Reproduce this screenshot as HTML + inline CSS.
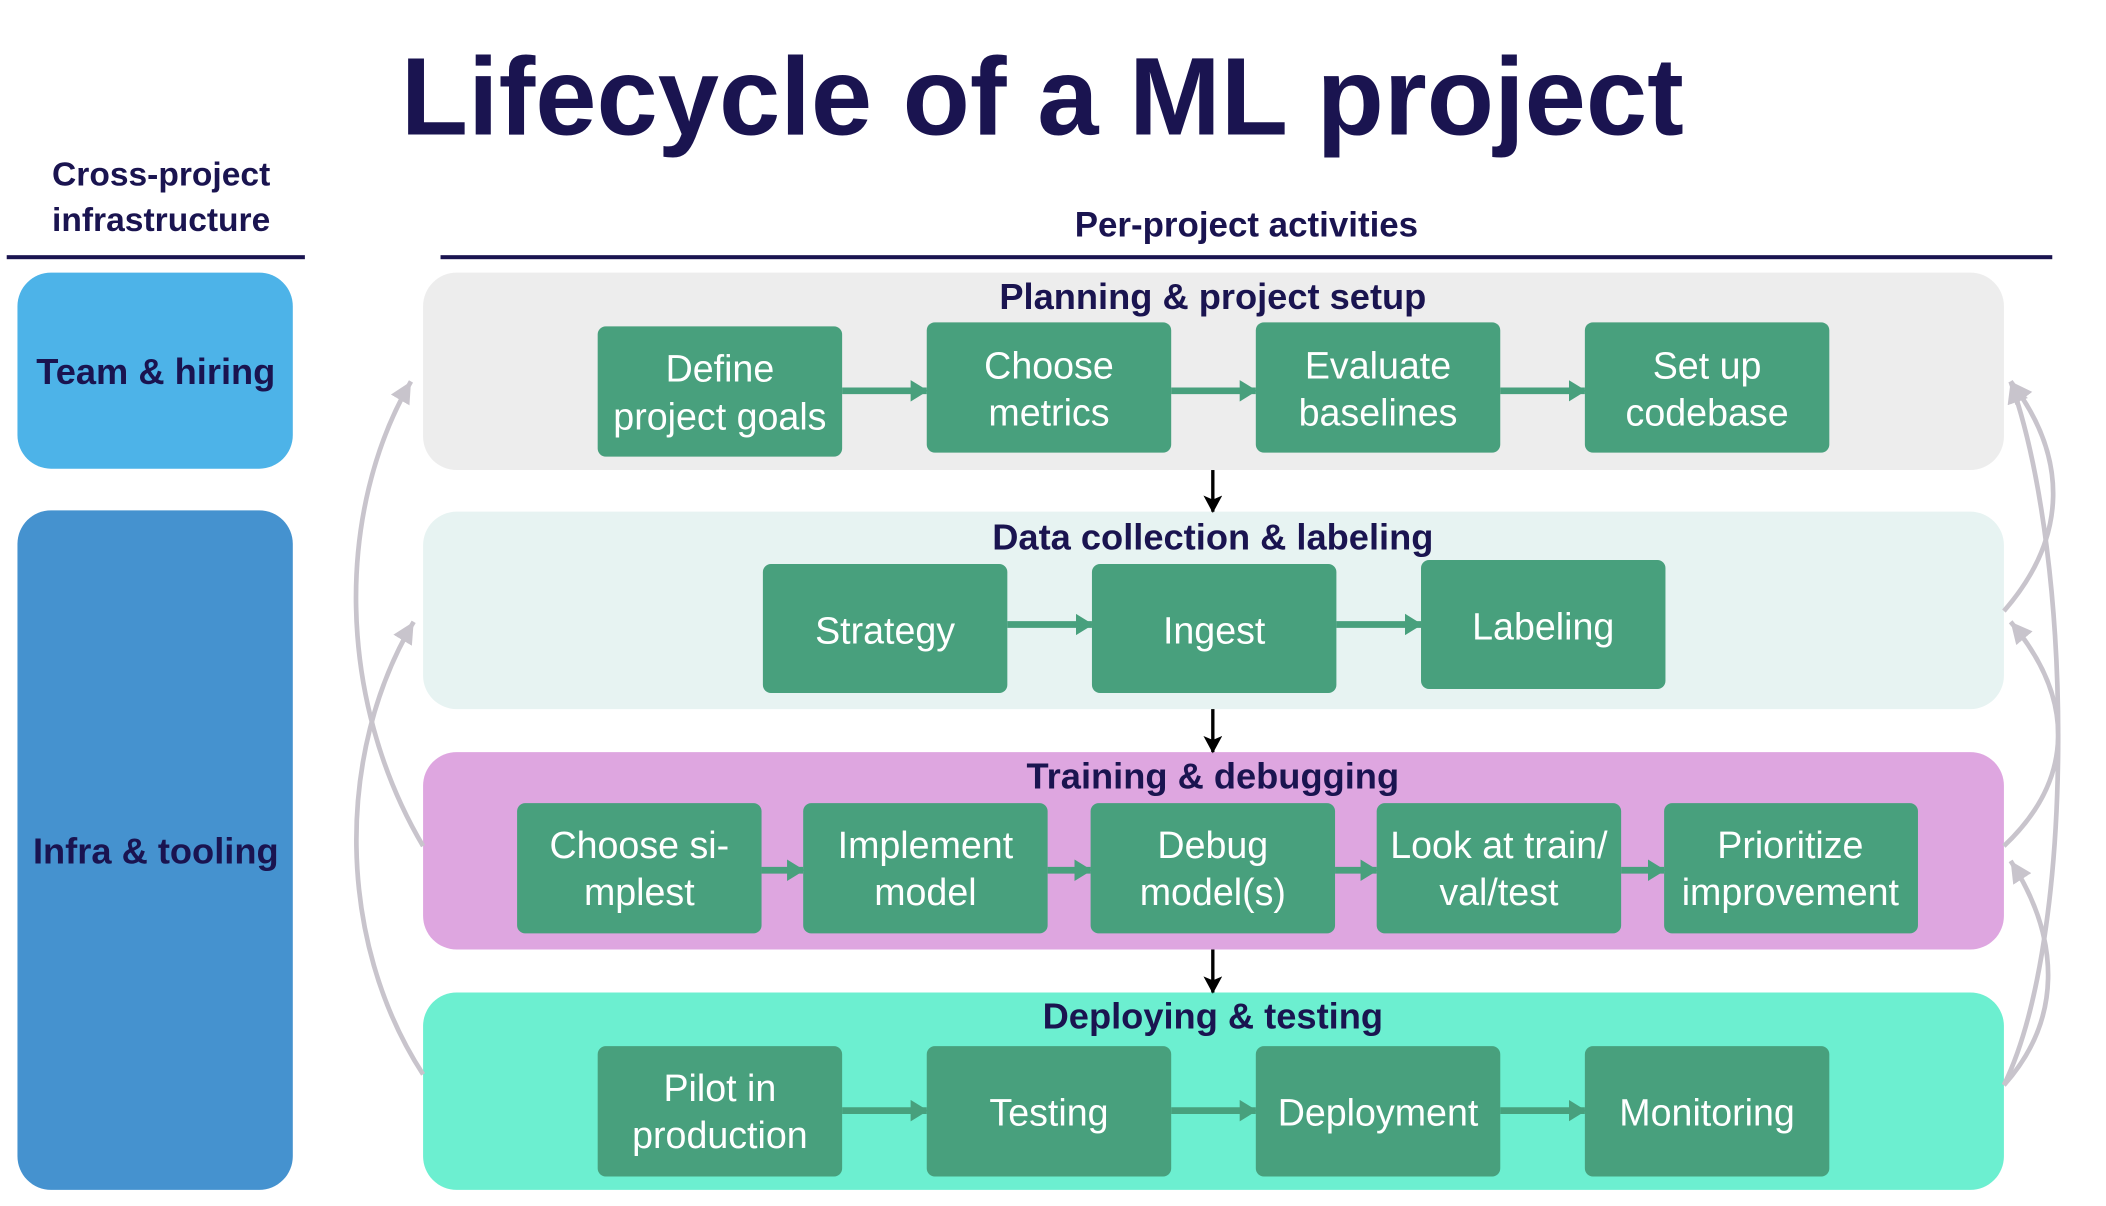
<!DOCTYPE html>
<html><head><meta charset="utf-8"><style>
html,body{margin:0;padding:0;background:#fff;}
svg{display:block;}
text{font-family:"Liberation Sans",sans-serif;}
.t{fill:#1a1450;font-weight:bold;text-anchor:middle;}
.w{fill:#fff;font-size:28px;text-anchor:middle;}
.g{fill:#48a07d;}
</style></head><body>
<svg width="2106" height="1206" viewBox="0 0 1568 898" preserveAspectRatio="none" xmlns="http://www.w3.org/2000/svg">
<defs>
<marker id="ga" markerWidth="14" markerHeight="16" refX="12" refY="8" orient="auto" markerUnits="userSpaceOnUse"><path d="M0,0 L13,8 L0,16 Z" fill="#48a07d"/></marker>
<marker id="ka" markerWidth="14" markerHeight="16" refX="12" refY="7" orient="auto" markerUnits="userSpaceOnUse"><path d="M0,0 L13,7 L0,14 L3,7 Z" fill="#000"/></marker>
<marker id="ya" markerWidth="20" markerHeight="20" refX="16" refY="8" orient="auto" markerUnits="userSpaceOnUse"><path d="M0,0 L16,8 L0,16 Z" fill="#c8c4cc"/></marker>
</defs>
<text class="t" x="776" y="100" font-size="82">Lifecycle of a ML project</text>
<text class="t" x="120" y="138" font-size="25">Cross-project</text>
<text class="t" x="120" y="172" font-size="25">infrastructure</text>
<text class="t" x="928" y="176" font-size="26">Per-project activities</text>
<rect x="5" y="190" width="222" height="3" fill="#1a1450"/>
<rect x="328" y="190" width="1200" height="3" fill="#1a1450"/>
<rect x="13" y="203" width="205" height="146" rx="25" fill="#4db3e8"/>
<text class="t" x="116" y="286" font-size="27">Team &amp; hiring</text>
<rect x="13" y="380" width="205" height="506" rx="25" fill="#4592cf"/>
<text class="t" x="116" y="643" font-size="27">Infra &amp; tooling</text>

<rect x="315" y="203" width="1177" height="147" rx="25" fill="#ededed"/>
<rect x="315" y="381" width="1177" height="147" rx="25" fill="#e7f3f2"/>
<rect x="315" y="560" width="1177" height="147" rx="25" fill="#dea6e0"/>
<rect x="315" y="739" width="1177" height="147" rx="25" fill="#6cefd0"/>
<text class="t" x="903" y="230" font-size="27">Planning &amp; project setup</text>
<text class="t" x="903" y="409" font-size="27">Data collection &amp; labeling</text>
<text class="t" x="903" y="587" font-size="27">Training &amp; debugging</text>
<text class="t" x="903" y="766" font-size="27">Deploying &amp; testing</text>

<g fill="none" stroke="#c8c4cc" stroke-width="3.5">
<path d="M315,630 C250,520 250,380 306,284" marker-end="url(#ya)"/>
<path d="M315,800 C250,700 250,560 308,463" marker-end="url(#ya)"/>
<path d="M1492,455 C1540,400 1540,340 1497,284" marker-end="url(#ya)"/>
<path d="M1492,630 C1545,580 1545,520 1497,463" marker-end="url(#ya)"/>
<path d="M1492,808 C1535,760 1535,700 1497,641" marker-end="url(#ya)"/>
<path d="M1492,808 C1545,700 1545,420 1497,284" marker-end="url(#ya)"/>
</g>

<g stroke="#000" stroke-width="2.5">
<line x1="903" y1="350" x2="903" y2="381" marker-end="url(#ka)"/>
<line x1="903" y1="528" x2="903" y2="560" marker-end="url(#ka)"/>
<line x1="903" y1="707" x2="903" y2="739" marker-end="url(#ka)"/>
</g>

<g class="g">
<rect x="445" y="243" width="182" height="97" rx="6"/>
<rect x="690" y="240" width="182" height="97" rx="6"/>
<rect x="935" y="240" width="182" height="97" rx="6"/>
<rect x="1180" y="240" width="182" height="97" rx="6"/>
<rect x="568" y="420" width="182" height="96" rx="6"/>
<rect x="813" y="420" width="182" height="96" rx="6"/>
<rect x="1058" y="417" width="182" height="96" rx="6"/>
<rect x="385" y="598" width="182" height="97" rx="6"/>
<rect x="598" y="598" width="182" height="97" rx="6"/>
<rect x="812" y="598" width="182" height="97" rx="6"/>
<rect x="1025" y="598" width="182" height="97" rx="6"/>
<rect x="1239" y="598" width="189" height="97" rx="6"/>
<rect x="445" y="779" width="182" height="97" rx="6"/>
<rect x="690" y="779" width="182" height="97" rx="6"/>
<rect x="935" y="779" width="182" height="97" rx="6"/>
<rect x="1180" y="779" width="182" height="97" rx="6"/>
</g>
<g stroke="#48a07d" stroke-width="5">
<line x1="627" y1="291" x2="690" y2="291" marker-end="url(#ga)"/>
<line x1="872" y1="291" x2="935" y2="291" marker-end="url(#ga)"/>
<line x1="1117" y1="291" x2="1180" y2="291" marker-end="url(#ga)"/>
<line x1="750" y1="465" x2="813" y2="465" marker-end="url(#ga)"/>
<line x1="995" y1="465" x2="1058" y2="465" marker-end="url(#ga)"/>
<line x1="567" y1="648" x2="598" y2="648" marker-end="url(#ga)"/>
<line x1="780" y1="648" x2="812" y2="648" marker-end="url(#ga)"/>
<line x1="994" y1="648" x2="1025" y2="648" marker-end="url(#ga)"/>
<line x1="1207" y1="648" x2="1239" y2="648" marker-end="url(#ga)"/>
<line x1="627" y1="827" x2="690" y2="827" marker-end="url(#ga)"/>
<line x1="872" y1="827" x2="935" y2="827" marker-end="url(#ga)"/>
<line x1="1117" y1="827" x2="1180" y2="827" marker-end="url(#ga)"/>
</g>
<g class="w">
<text x="536" y="284">Define</text><text x="536" y="320">project goals</text>
<text x="781" y="282">Choose</text><text x="781" y="317">metrics</text>
<text x="1026" y="282">Evaluate</text><text x="1026" y="317">baselines</text>
<text x="1271" y="282">Set up</text><text x="1271" y="317">codebase</text>
<text x="659" y="479">Strategy</text>
<text x="904" y="479">Ingest</text>
<text x="1149" y="476">Labeling</text>
<text x="476" y="639">Choose si-</text><text x="476" y="674">mplest</text>
<text x="689" y="639">Implement</text><text x="689" y="674">model</text>
<text x="903" y="639">Debug</text><text x="903" y="674">model(s)</text>
<text x="1116" y="639">Look at train/</text><text x="1116" y="674">val/test</text>
<text x="1333" y="639">Prioritize</text><text x="1333" y="674">improvement</text>
<text x="536" y="820">Pilot in</text><text x="536" y="855">production</text>
<text x="781" y="838">Testing</text>
<text x="1026" y="838">Deployment</text>
<text x="1271" y="838">Monitoring</text>
</g>
</svg>
</body></html>
